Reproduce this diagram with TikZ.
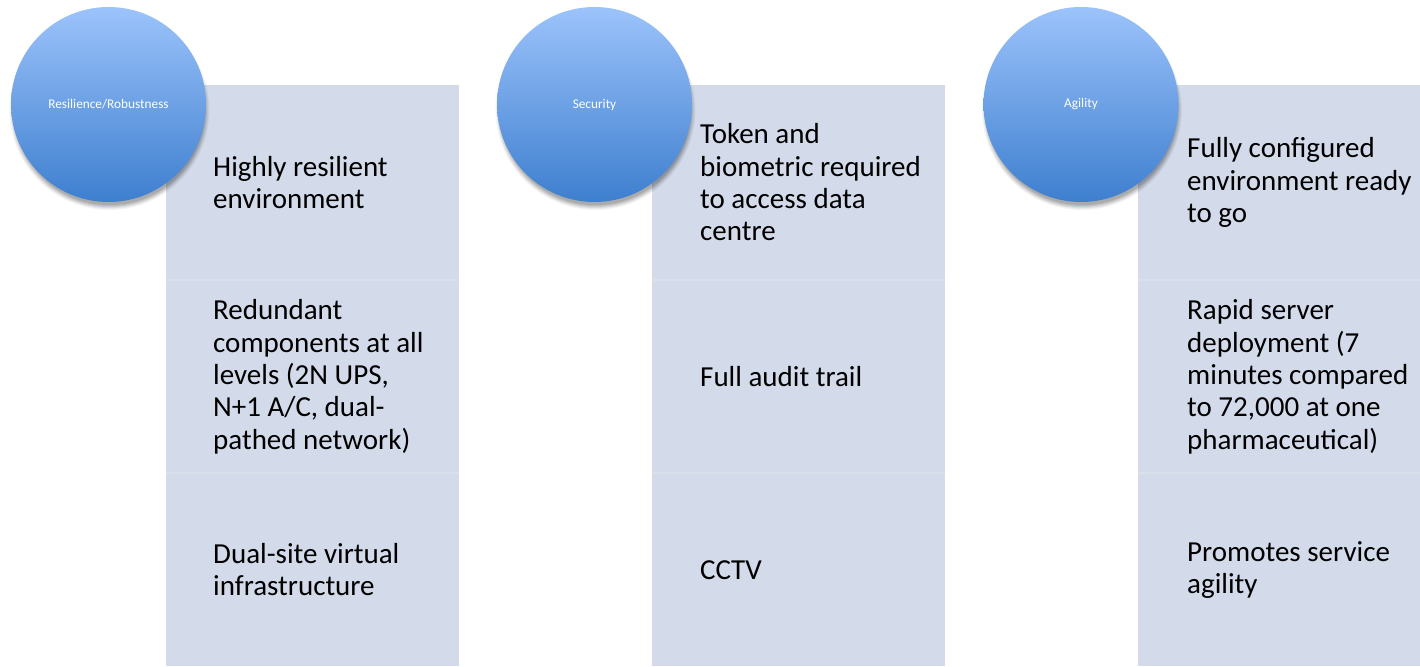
\documentclass[tikz,border=0pt]{standalone}
\usepackage{fontspec}
\setmainfont{Carlito}
\usetikzlibrary{calc}
\definecolor{boxfill}{RGB}{211,218,233}
\definecolor{sepline}{RGB}{218,223,236}
\definecolor{circtop}{RGB}{156,195,251}
\definecolor{circbot}{RGB}{62,127,207}
\tikzset{
  x=1pt, y=-1pt,
  section/.style={fill=boxfill, draw=none, minimum width=293pt, minimum height=193pt, anchor=north west, inner sep=0pt},
  itemtext/.style={anchor=west, align=left, inner sep=0pt, font=\fontsize{29}{32.3}\selectfont, text=black},
  topic/.style={circle, minimum size=195pt, inner sep=0pt, shading=axis, top color=circtop, bottom color=circbot, draw=none, font=\fontsize{13.3}{15}\selectfont, text=white},
}
\begin{document}
\begin{tikzpicture}
\useasboundingbox (0,0) rectangle (1420,666);
\clip (0,0) rectangle (1420,666);
\fill[white] (0,0) rectangle (1420,666);
% column boxes
\foreach \c/\x in {1/166, 2/652, 3/1138} {
  \node[section, minimum height=195.5pt] (c\c s1) at (\x,84.5) {};
  \node[section] (c\c s2) at (\x,280) {};
  \node[section] (c\c s3) at (\x,473) {};
  \draw[sepline, line width=1.5pt] (c\c s2.north west) -- (c\c s2.north east);
  \draw[sepline, line width=1.5pt] (c\c s3.north west) -- (c\c s3.north east);
}
% texts
\node[itemtext] (t11) at ($(c1s1.west)+(47,0)$) {Highly resilient\\environment};
\node[itemtext] (t12) at ($(c1s2.west)+(47,0)$) {Redundant\\components at all\\levels (2N UPS,\\N+1 A/C, dual-\\pathed network)};
\node[itemtext] (t13) at ($(c1s3.west)+(47,0)$) {Dual-site virtual\\infrastructure};
\node[itemtext] (t21) at ($(c2s1.west)+(48,0)$) {Token and\\biometric required\\to access data\\centre};
\node[itemtext] (t22) at ($(c2s2.west)+(48,0)$) {Full audit trail};
\node[itemtext] (t23) at ($(c2s3.west)+(48,0)$) {CCTV};
\node[itemtext] (t31) at ($(c3s1.west)+(49,0)$) {Fully configured\\environment ready\\to go};
\node[itemtext] (t32) at ($(c3s2.west)+(49,0)$) {Rapid server\\deployment (7\\minutes compared\\to 72,000 at one\\pharmaceutical)};
\node[itemtext] (t33) at ($(c3s3.west)+(49,0)$) {Promotes service\\agility};
% circle shadows and circles
\foreach \cx in {108.5, 594.5, 1081} {
  \foreach \r/\o in {100/0.04, 99/0.05, 98/0.06, 97/0.07, 96/0.08, 95/0.08} {
    \fill[black, opacity=\o] (\cx+1, 110) circle (\r);
  }
}
\node[topic] (k1) at (108.5,104.5) {Resilience/Robustness};
\node[topic] (k2) at (594.5,104.5) {Security};
\node[topic] (k3) at (1081,104.5) {Agility};
\end{tikzpicture}
\end{document}
